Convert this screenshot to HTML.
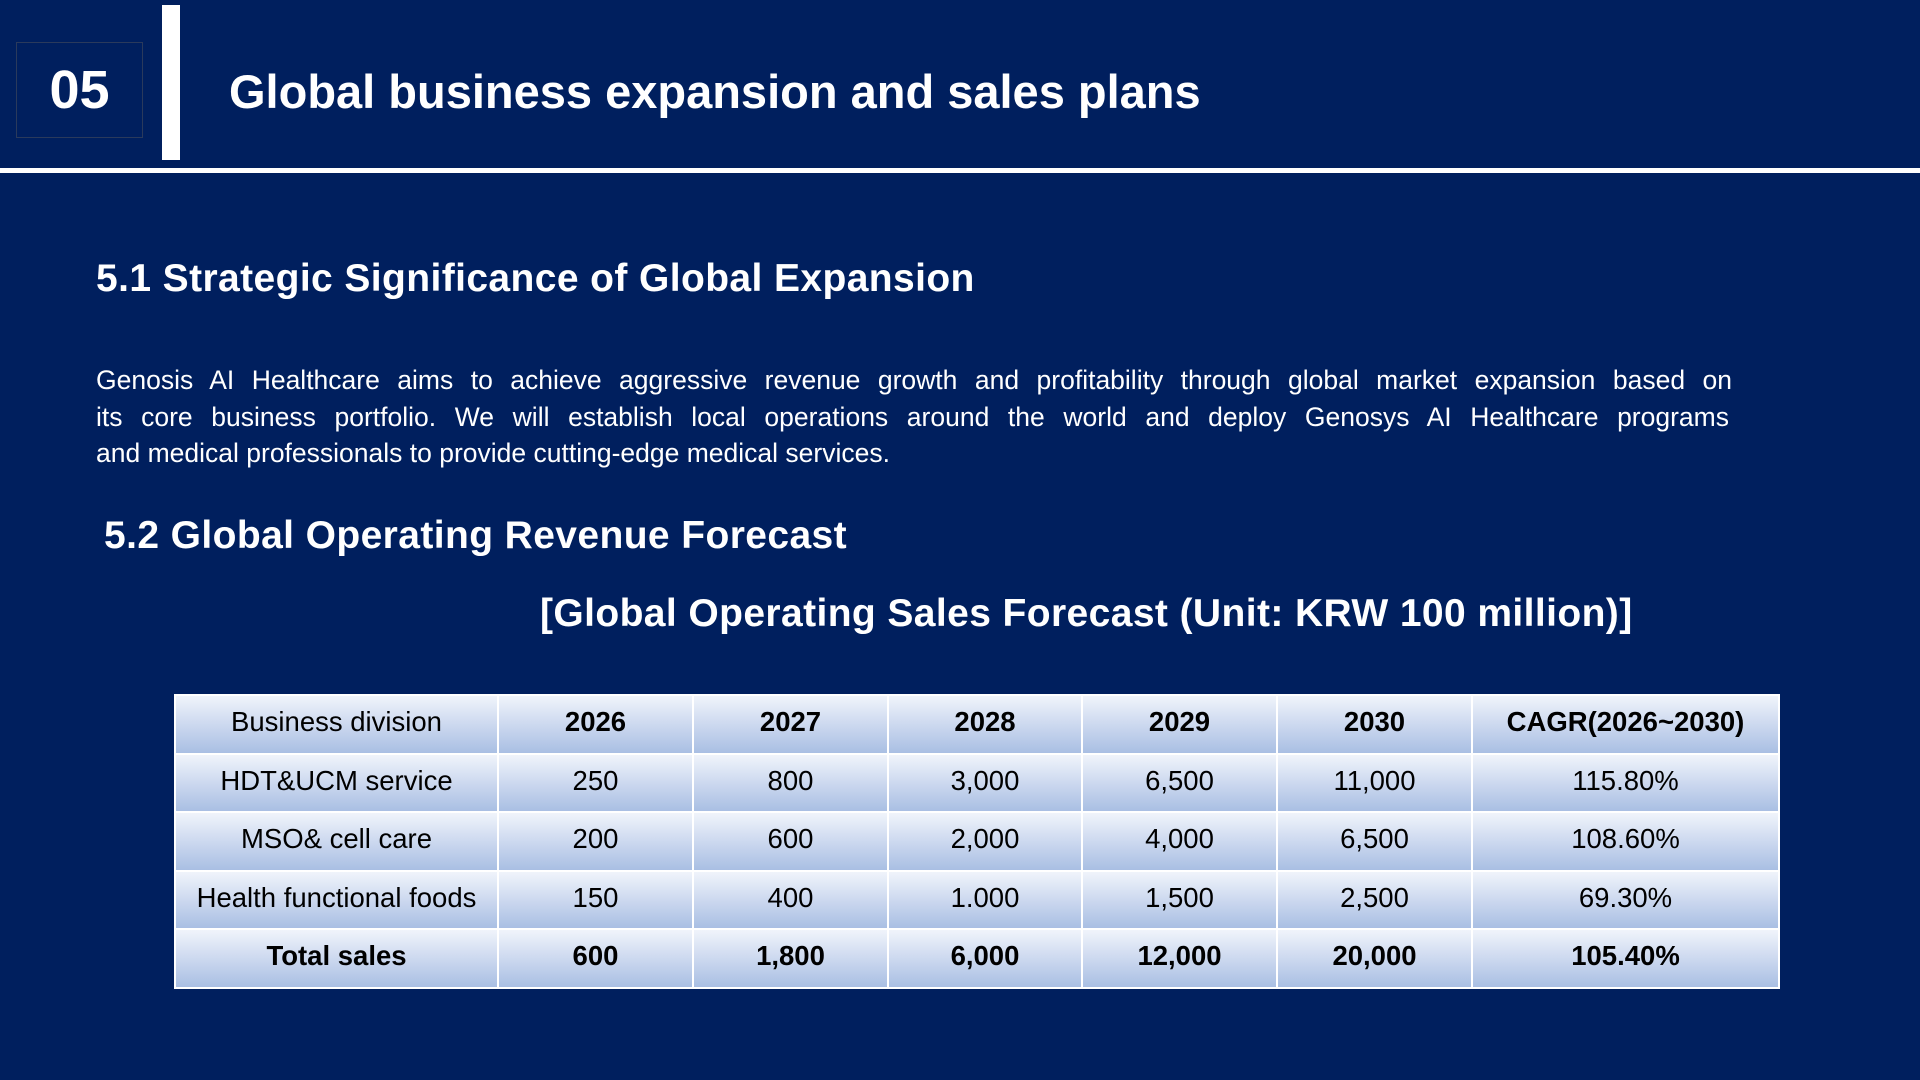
<!DOCTYPE html>
<html><head><meta charset="utf-8"><style>
html,body{margin:0;padding:0}
body{width:1920px;height:1080px;background:#001f5e;position:relative;overflow:hidden;font-family:"Liberation Sans","Noto Sans CJK KR",sans-serif;color:#fff}
.abs{position:absolute}
#box{left:16px;top:42px;width:127px;height:96px;border:1px solid #2a3a5c;box-sizing:border-box;font-size:54px;font-weight:bold;text-align:center;line-height:94px}
#bar{left:162px;top:5px;width:18px;height:155px;background:#fff}
#line{left:0;top:168px;width:1920px;height:5px;background:#fff}
#title{left:229px;top:62px;font-size:47px;font-weight:bold;line-height:60px}
h2{margin:0;position:absolute;font-size:39px;font-weight:bold;line-height:50px;letter-spacing:0.4px}
#p{left:96px;top:362px;width:1636px;font-size:26.5px;line-height:36.7px}
#p div{text-align:justify;text-align-last:justify;white-space:nowrap}
#p div.l{text-align-last:left}
table{position:absolute;left:174px;top:694px;width:1604px;border-collapse:collapse;table-layout:fixed}
td{height:58.5px;padding:0 0 4px 0;border:2.5px solid #fff;background:linear-gradient(#f0f4fb,#c9d6ee 55%,#a9bfe3);color:#000;font-size:27.5px;text-align:center;box-sizing:border-box}
.b td{font-weight:bold}
td.b{font-weight:bold}
</style></head><body>
<div class="abs" id="box">05</div>
<div class="abs" id="bar"></div>
<div class="abs" id="line"></div>
<div class="abs" id="title">Global business expansion and sales plans</div>
<h2 style="left:96px;top:254px">5.1 Strategic Significance of Global Expansion</h2>
<div class="abs" id="p"><div>Genosis AI Healthcare aims to achieve aggressive revenue growth and profitability through global market expansion based on</div><div style="width:1633px">its core business portfolio. We will establish local operations around the world and deploy Genosys AI Healthcare programs</div><div class="l">and medical professionals to provide cutting-edge medical services.</div></div>
<h2 style="left:104px;top:511px">5.2 Global Operating Revenue Forecast</h2>
<h2 style="left:540px;top:589px">[Global Operating Sales Forecast (Unit: KRW 100 million)]</h2>
<table>
<colgroup><col style="width:323px"><col style="width:195px"><col style="width:195px"><col style="width:194px"><col style="width:195px"><col style="width:195px"><col style="width:307px"></colgroup>
<tr><td>Business division</td><td class="b">2026</td><td class="b">2027</td><td class="b">2028</td><td class="b">2029</td><td class="b">2030</td><td class="b">CAGR(2026~2030)</td></tr>
<tr><td>HDT&amp;UCM service</td><td>250</td><td>800</td><td>3,000</td><td>6,500</td><td>11,000</td><td>115.80%</td></tr>
<tr><td>MSO&amp; cell care</td><td>200</td><td>600</td><td>2,000</td><td>4,000</td><td>6,500</td><td>108.60%</td></tr>
<tr><td>Health functional foods</td><td>150</td><td>400</td><td>1.000</td><td>1,500</td><td>2,500</td><td>69.30%</td></tr>
<tr class="b"><td>Total sales</td><td>600</td><td>1,800</td><td>6,000</td><td>12,000</td><td>20,000</td><td>105.40%</td></tr>
</table>
</body></html>
